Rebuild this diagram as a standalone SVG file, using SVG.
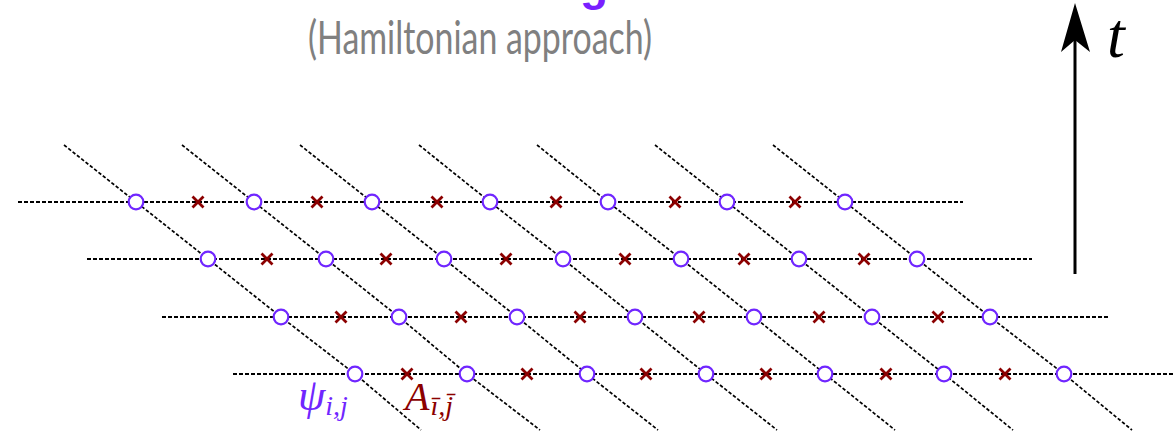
<svg xmlns="http://www.w3.org/2000/svg" xmlns:xlink="http://www.w3.org/1999/xlink" width="1175" height="438" viewBox="0 0 1175 438">
<style>
.h{fill:none;stroke:#000;stroke-width:1.8;stroke-dasharray:4 2}
.d{fill:none;stroke:#000;stroke-width:1.7;stroke-dasharray:3.5 2}
.o{fill:#fff;stroke:#7026ff;stroke-width:2.2}
.x{fill:none;stroke:#8b0000;stroke-width:2.8}
.m{font-family:"Liberation Serif","DejaVu Serif",serif;font-style:italic}
</style>
<defs>
<path id="xs" d="M-5.5,-5.5L5.5,5.5M-5.5,5.5L5.5,-5.5"/>
</defs>
<rect width="1175" height="438" fill="#fff"/>
<text x="580" y="0" font-family="Liberation Sans,Arial,sans-serif" font-weight="bold" font-size="46" fill="#7a1fff">g</text>
<text x="480" y="54" text-anchor="middle" font-family="Lato,'Open Sans',sans-serif" font-size="46" fill="#808080" textLength="344" lengthAdjust="spacingAndGlyphs">(Hamiltonian approach)</text>
<g id="time-axis">
<line x1="1075" y1="274" x2="1075" y2="40" stroke="#000" stroke-width="3"/>
<path d="M1075,3L1090,52L1075,40L1061,52Z" fill="#000"/>
<text class="m" x="1107" y="57" font-size="64">t</text>
</g>
<g id="connectors">
<line class="h" x1="18" y1="202" x2="963" y2="202"/>
<line class="h" x1="87" y1="259" x2="1032" y2="259"/>
<line class="h" x1="162" y1="317" x2="1108" y2="317"/>
<line class="h" x1="233" y1="374" x2="1175" y2="374"/>
<polyline class="d" points="64,145 136,202 208,259 281,317 355,374 421,430"/>
<polyline class="d" points="182,145 254,202 326,259 399,317 467,374 540,430"/>
<polyline class="d" points="300,145 372,202 444,259 517,317 587,374 658,430"/>
<polyline class="d" points="419,145 490,202 563,259 635,317 706,374 777,430"/>
<polyline class="d" points="537,145 608,202 681,259 754,317 825,374 895,430"/>
<polyline class="d" points="655,145 727,202 799,259 872,317 944,374 1013,430"/>
<polyline class="d" points="773,145 845,202 917,259 990,317 1064,374 1132,430"/>
</g>
<g id="sites">
<circle class="o" r="7.3" cx="136" cy="202"/><circle class="o" r="7.3" cx="254" cy="202"/><circle class="o" r="7.3" cx="372" cy="202"/><circle class="o" r="7.3" cx="490" cy="202"/><circle class="o" r="7.3" cx="608" cy="202"/><circle class="o" r="7.3" cx="727" cy="202"/><circle class="o" r="7.3" cx="845" cy="202"/>
<circle class="o" r="7.3" cx="208" cy="259"/><circle class="o" r="7.3" cx="326" cy="259"/><circle class="o" r="7.3" cx="444" cy="259"/><circle class="o" r="7.3" cx="563" cy="259"/><circle class="o" r="7.3" cx="681" cy="259"/><circle class="o" r="7.3" cx="799" cy="259"/><circle class="o" r="7.3" cx="917" cy="259"/>
<circle class="o" r="7.3" cx="281" cy="317"/><circle class="o" r="7.3" cx="399" cy="317"/><circle class="o" r="7.3" cx="517" cy="317"/><circle class="o" r="7.3" cx="635" cy="317"/><circle class="o" r="7.3" cx="754" cy="317"/><circle class="o" r="7.3" cx="872" cy="317"/><circle class="o" r="7.3" cx="990" cy="317"/>
<circle class="o" r="7.3" cx="355" cy="374"/><circle class="o" r="7.3" cx="467" cy="374"/><circle class="o" r="7.3" cx="587" cy="374"/><circle class="o" r="7.3" cx="706" cy="374"/><circle class="o" r="7.3" cx="825" cy="374"/><circle class="o" r="7.3" cx="944" cy="374"/><circle class="o" r="7.3" cx="1064" cy="374"/>
</g>
<g id="links">
<use class="x" xlink:href="#xs" x="198" y="202"/><use class="x" xlink:href="#xs" x="317" y="202"/><use class="x" xlink:href="#xs" x="437" y="202"/><use class="x" xlink:href="#xs" x="556" y="202"/><use class="x" xlink:href="#xs" x="675" y="202"/><use class="x" xlink:href="#xs" x="795" y="202"/>
<use class="x" xlink:href="#xs" x="267" y="259"/><use class="x" xlink:href="#xs" x="386" y="259"/><use class="x" xlink:href="#xs" x="506" y="259"/><use class="x" xlink:href="#xs" x="625" y="259"/><use class="x" xlink:href="#xs" x="744" y="259"/><use class="x" xlink:href="#xs" x="864" y="259"/>
<use class="x" xlink:href="#xs" x="341" y="317"/><use class="x" xlink:href="#xs" x="461" y="317"/><use class="x" xlink:href="#xs" x="580" y="317"/><use class="x" xlink:href="#xs" x="699" y="317"/><use class="x" xlink:href="#xs" x="819" y="317"/><use class="x" xlink:href="#xs" x="938" y="317"/>
<use class="x" xlink:href="#xs" x="407" y="374"/><use class="x" xlink:href="#xs" x="527" y="374"/><use class="x" xlink:href="#xs" x="646" y="374"/><use class="x" xlink:href="#xs" x="766" y="374"/><use class="x" xlink:href="#xs" x="886" y="374"/><use class="x" xlink:href="#xs" x="1005" y="374"/>
</g>
<g id="labels">
<text class="m" x="298" y="410" font-size="44" fill="#7026ff">ψ<tspan font-size="28" dy="5">i,j</tspan></text>
<text class="m" x="405" y="410" font-size="40" fill="#8b0000">A<tspan font-size="28" dy="5" dx="1">ī,j̄</tspan></text>
</g>
</svg>
